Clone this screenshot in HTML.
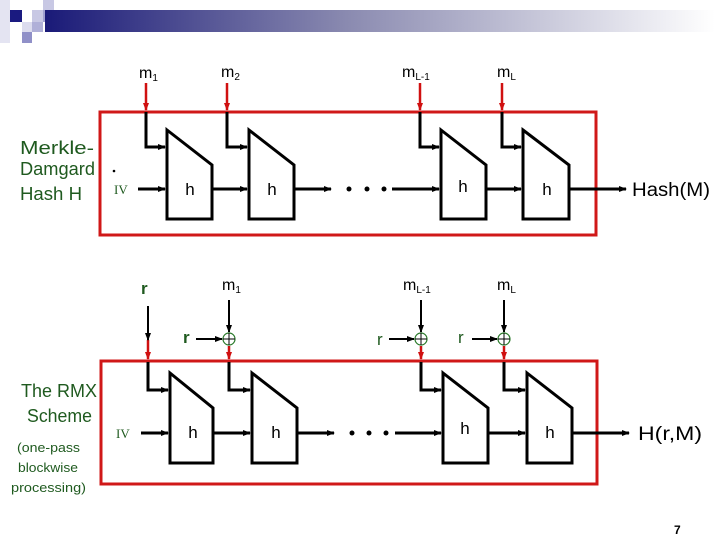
<!DOCTYPE html>
<html><head><meta charset="utf-8"><style>
body{margin:0;width:720px;height:540px;background:#fff;overflow:hidden;position:relative;font-family:"Liberation Sans",sans-serif}
</style></head><body>
<svg width="720" height="540" viewBox="0 0 720 540" xmlns="http://www.w3.org/2000/svg" style="position:absolute;left:0;top:0">
<defs>
<linearGradient id="g" x1="0" x2="1" y1="0" y2="0">
<stop offset="0" stop-color="#1a1a78"/><stop offset="0.45" stop-color="#8a8ab0"/><stop offset="1" stop-color="#ffffff"/>
</linearGradient>
<marker id="a" markerWidth="8" markerHeight="8" refX="7" refY="4" orient="auto" markerUnits="userSpaceOnUse"><path d="M0,1 L8,4 L0,7z" fill="#000"/></marker>
<marker id="ar" markerWidth="8" markerHeight="8" refX="7" refY="4" orient="auto" markerUnits="userSpaceOnUse"><path d="M0,1 L8,4 L0,7z" fill="#d01010"/></marker>
</defs>
<rect x="0" y="0" width="10" height="43" fill="#e4e4f2"/>
<rect x="10" y="10" width="12" height="12" fill="#1a1a80"/>
<rect x="32" y="10" width="11" height="12" fill="#c8c8e4"/>
<rect x="43" y="0" width="11" height="10" fill="#c8c8e4"/>
<rect x="43" y="10" width="11" height="12" fill="#a0a0d0"/>
<rect x="22" y="22" width="10" height="10" fill="#dcdcee"/>
<rect x="32" y="22" width="11" height="10" fill="#b0b0d8"/>
<rect x="22" y="32" width="10" height="11" fill="#9090c8"/>
<rect x="45" y="10" width="670" height="22" fill="url(#g)"/>

<g fill="none" stroke-width="3">
<rect x="100" y="112" width="496" height="123" stroke="#d01818"/>
<rect x="101" y="361" width="496" height="123" stroke="#d01818"/>
</g>

<g fill="#fff" stroke="#000" stroke-width="3">
<path d="M167,130 L212,165 L212,219 L167,219z"/>
<path d="M249,130 L294,165 L294,219 L249,219z"/>
<path d="M441,130 L486,165 L486,219 L441,219z"/>
<path d="M523,130 L569,165 L569,219 L523,219z"/>
<path d="M170,373 L213,408 L213,463 L170,463z"/>
<path d="M252,373 L297,408 L297,463 L252,463z"/>
<path d="M443,373 L488,408 L488,463 L443,463z"/>
<path d="M527,373 L572,408 L572,463 L527,463z"/>
</g>

<g stroke="#d01010" stroke-width="2.5">
<line x1="146" y1="83" x2="146" y2="110" marker-end="url(#ar)"/>
<line x1="227" y1="83" x2="227" y2="110" marker-end="url(#ar)"/>
<line x1="420" y1="83" x2="420" y2="110" marker-end="url(#ar)"/>
<line x1="502" y1="83" x2="502" y2="110" marker-end="url(#ar)"/>
<line x1="148" y1="340" x2="148" y2="359" marker-end="url(#ar)"/>
<line x1="229" y1="346" x2="229" y2="359" marker-end="url(#ar)"/>
<line x1="421" y1="346" x2="421" y2="359" marker-end="url(#ar)"/>
<line x1="504" y1="346" x2="504" y2="359" marker-end="url(#ar)"/>
</g>

<g stroke="#000" stroke-width="3" fill="none">
<path d="M146,112 V147 H165" marker-end="url(#a)"/>
<path d="M227,112 V147 H247" marker-end="url(#a)"/>
<path d="M420,112 V147 H439" marker-end="url(#a)"/>
<path d="M502,112 V147 H521" marker-end="url(#a)"/>
<line x1="138" y1="189" x2="165" y2="189" marker-end="url(#a)"/>
<line x1="212" y1="189" x2="247" y2="189" marker-end="url(#a)"/>
<line x1="294" y1="189" x2="331" y2="189" marker-end="url(#a)"/>
<line x1="392" y1="189" x2="439" y2="189" marker-end="url(#a)"/>
<line x1="486" y1="189" x2="521" y2="189" marker-end="url(#a)"/>
<line x1="569" y1="189" x2="626" y2="189" marker-end="url(#a)"/>

<path d="M148,362 V390 H168" marker-end="url(#a)"/>
<path d="M229,362 V390 H250" marker-end="url(#a)"/>
<path d="M421,362 V390 H441" marker-end="url(#a)"/>
<path d="M504,362 V390 H525" marker-end="url(#a)"/>
<line x1="141" y1="433" x2="168" y2="433" marker-end="url(#a)"/>
<line x1="213" y1="433" x2="250" y2="433" marker-end="url(#a)"/>
<line x1="297" y1="433" x2="334" y2="433" marker-end="url(#a)"/>
<line x1="395" y1="433" x2="441" y2="433" marker-end="url(#a)"/>
<line x1="488" y1="433" x2="525" y2="433" marker-end="url(#a)"/>
<line x1="572" y1="433" x2="629" y2="433" marker-end="url(#a)"/>
</g>
<g stroke="#000" stroke-width="2">
<line x1="148" y1="306" x2="148" y2="340" marker-end="url(#a)"/>
<line x1="229" y1="300" x2="229" y2="332" marker-end="url(#a)"/>
<line x1="421" y1="300" x2="421" y2="332" marker-end="url(#a)"/>
<line x1="504" y1="300" x2="504" y2="332" marker-end="url(#a)"/>
<line x1="196" y1="339" x2="222" y2="339" marker-end="url(#a)"/>
<line x1="389" y1="339" x2="414" y2="339" marker-end="url(#a)"/>
<line x1="472" y1="339" x2="497" y2="339" marker-end="url(#a)"/>
</g>
<g fill="none" stroke="#2a7a2a" stroke-width="1.2">
<circle cx="229" cy="339" r="6"/><circle cx="421" cy="339" r="6"/><circle cx="504" cy="339" r="6"/>
</g>
<g stroke="#000" stroke-width="1">
<path d="M223,339h12M229,333v12M415,339h12M421,333v12M498,339h12M504,333v12"/>
</g>
<g fill="#000">
<circle cx="349" cy="189" r="2.5"/><circle cx="367" cy="189" r="2.5"/><circle cx="384" cy="189" r="2.5"/>
<circle cx="352" cy="433" r="2.5"/><circle cx="369" cy="433" r="2.5"/><circle cx="386" cy="433" r="2.5"/>
<circle cx="114" cy="171" r="1.3"/>
</g>

<g font-family="Liberation Sans, sans-serif" font-size="17" fill="#000" text-anchor="middle">
<text x="190" y="195">h</text><text x="272" y="195">h</text><text x="463" y="192">h</text><text x="547" y="195">h</text>
<text x="193" y="438">h</text><text x="276" y="438">h</text><text x="465" y="434">h</text><text x="550" y="438">h</text>
</g>
<g font-family="Liberation Sans, sans-serif" font-size="16" fill="#000">
<text x="139" y="78">m<tspan font-size="10" dy="3">1</tspan></text>
<text x="221" y="77">m<tspan font-size="10" dy="3">2</tspan></text>
<text x="402" y="77">m<tspan font-size="10" dy="3">L-1</tspan></text>
<text x="497" y="77">m<tspan font-size="10" dy="3">L</tspan></text>
<text x="222" y="290">m<tspan font-size="10" dy="3">1</tspan></text>
<text x="403" y="290">m<tspan font-size="10" dy="3">L-1</tspan></text>
<text x="497" y="290">m<tspan font-size="10" dy="3">L</tspan></text>
<text x="632" y="196" font-size="19" textLength="78" lengthAdjust="spacingAndGlyphs">Hash(M)</text>
<text x="638" y="440" font-size="19" textLength="64" lengthAdjust="spacingAndGlyphs">H(r,M)</text>
<text x="674" y="534" font-size="12" font-weight="bold">7</text>
</g>
<g font-family="Liberation Serif, serif" font-size="13" fill="#1f5a1f">
<text x="114" y="194">IV</text><text x="116" y="438">IV</text>
</g>
<g font-family="Liberation Sans, sans-serif" fill="#1f5a1f">
<text x="141" y="294" font-size="17" font-weight="bold">r</text>
<text x="183" y="343" font-size="17" font-weight="bold">r</text>
<text x="377" y="345" font-size="17">r</text>
<text x="458" y="343" font-size="17">r</text>
<text x="20" y="154" font-size="18" textLength="74" lengthAdjust="spacingAndGlyphs">Merkle-</text>
<text x="20" y="175" font-size="18" textLength="75" lengthAdjust="spacingAndGlyphs">Damgard</text>
<text x="20" y="200" font-size="18" textLength="62" lengthAdjust="spacingAndGlyphs">Hash H</text>
<text x="21" y="397" font-size="18" textLength="76" lengthAdjust="spacingAndGlyphs">The RMX</text>
<text x="27" y="422" font-size="18" textLength="65" lengthAdjust="spacingAndGlyphs">Scheme</text>
<text x="17" y="452" font-size="13" textLength="63" lengthAdjust="spacingAndGlyphs">(one-pass</text>
<text x="18" y="472" font-size="13" textLength="60" lengthAdjust="spacingAndGlyphs">blockwise</text>
<text x="11" y="492" font-size="13" textLength="75" lengthAdjust="spacingAndGlyphs">processing)</text>
</g>
</svg>
</body></html>
